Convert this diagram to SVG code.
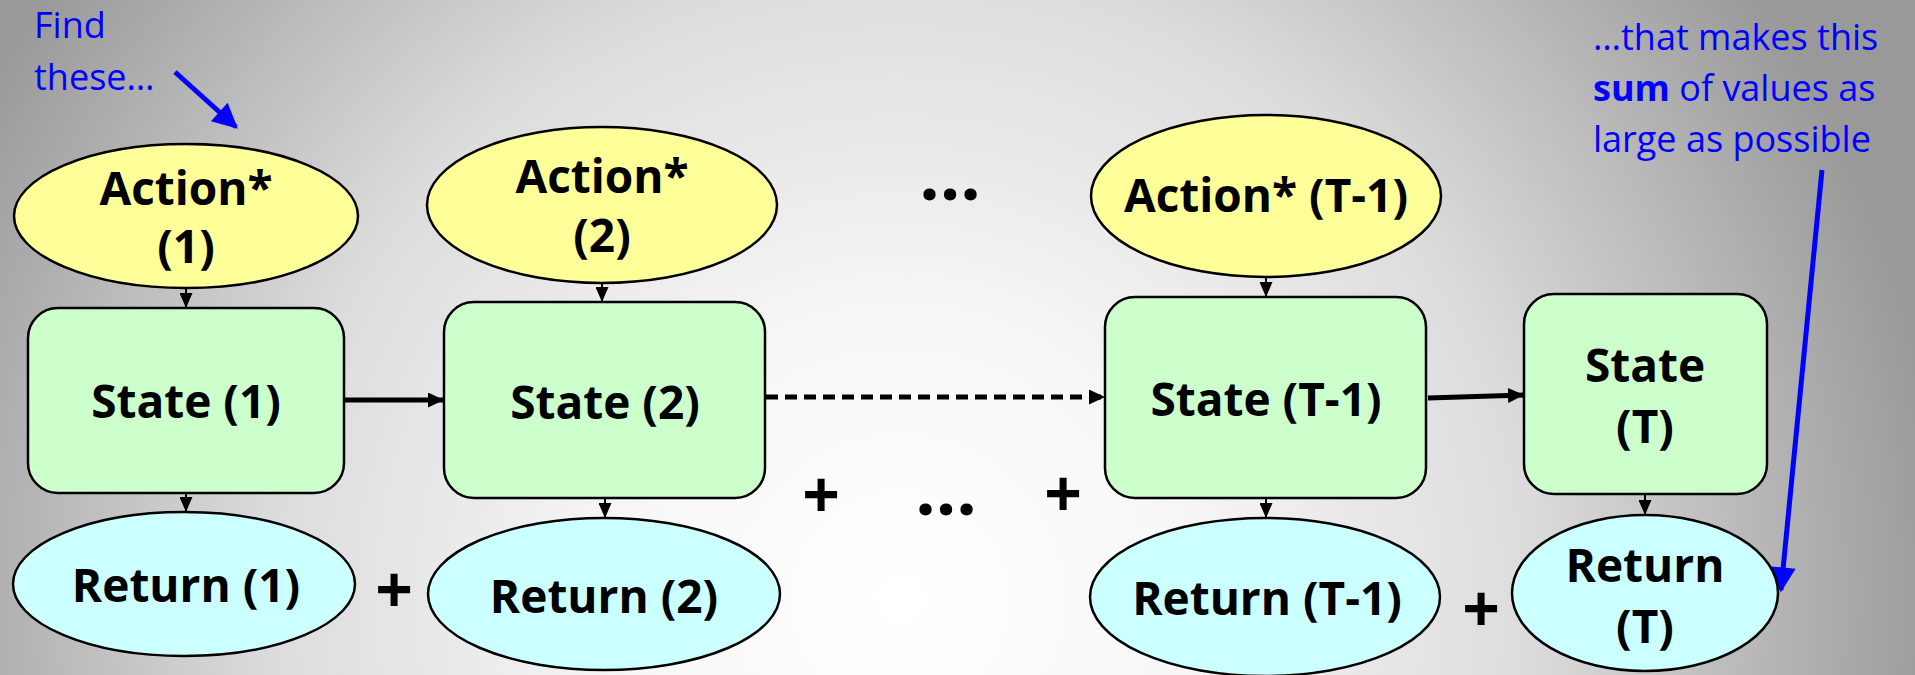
<svg xmlns="http://www.w3.org/2000/svg" width="1915" height="675" viewBox="0 0 1915 675">
  <defs>
    <radialGradient id="bg" gradientUnits="userSpaceOnUse" cx="900" cy="600" r="1050">
      <stop offset="0" stop-color="#ffffff"/>
      <stop offset="0.25" stop-color="#f8f8f8"/>
      <stop offset="0.6" stop-color="#dcdcdc"/>
      <stop offset="1" stop-color="#999999"/>
    </radialGradient>
    <marker id="head" viewBox="0 0 10 10" refX="10" refY="5" markerWidth="15" markerHeight="13" markerUnits="userSpaceOnUse" orient="auto" preserveAspectRatio="none">
      <path d="M0,0 L10,5 L0,10 z" fill="#000"/>
    </marker>
    <marker id="headThick" viewBox="0 0 10 10" refX="10" refY="5" markerWidth="16" markerHeight="15" markerUnits="userSpaceOnUse" orient="auto" preserveAspectRatio="none">
      <path d="M0,0 L10,5 L0,10 z" fill="#000"/>
    </marker>
    <marker id="blueHead" viewBox="0 0 10 10" refX="9" refY="5" markerWidth="6" markerHeight="5" orient="auto">
      <path d="M0,0 L10,5 L0,10 z" fill="#0000ff"/>
    </marker>
  </defs>
  <style>
    .action { fill: #ffff99; stroke: #000; stroke-width: 2.5; }
    .state { fill: #ccffcc; stroke: #000; stroke-width: 2.5; }
    .ret { fill: #ccffff; stroke: #000; stroke-width: 2.5; }
    .lbl { font-family: "Open Sans", "Liberation Sans", sans-serif; font-weight: 700; font-size: 46px; fill: #000; text-anchor: middle; }
    .op { font-family: "Open Sans", "Liberation Sans", sans-serif; font-weight: 700; font-size: 66px; fill: #000; text-anchor: middle; }
    .dots { font-family: "Open Sans", "Liberation Sans", sans-serif; font-weight: 700; font-size: 72px; fill: #000; text-anchor: middle; }
    .note { font-family: "Open Sans", "Liberation Sans", sans-serif; font-size: 36px; fill: #0000ff; }
    .edge { stroke: #000; stroke-width: 2; fill: none; marker-end: url(#head); }
    .chain { stroke: #000; stroke-width: 5; fill: none; marker-end: url(#headThick); }
    .pointer { stroke: #0000ff; stroke-width: 5; fill: none; marker-end: url(#blueHead); }
  </style>

  <rect x="0" y="0" width="1915" height="675" fill="url(#bg)"/>

  <!-- annotations -->
  <g id="note-find">
    <text class="note" x="34" y="38">Find</text>
    <text class="note" x="34" y="90">these…</text>
  </g>
  <g id="note-sum">
    <text class="note" x="1593" y="50">…that makes this</text>
    <text class="note" x="1593" y="101"><tspan font-weight="700">sum</tspan> of values as</text>
    <text class="note" x="1593" y="152">large as possible</text>
  </g>

  <!-- connectors -->
  <g id="connectors">
    <line class="edge" x1="186" y1="289" x2="186" y2="308"/>
    <line class="edge" x1="602" y1="283" x2="602" y2="302"/>
    <line class="edge" x1="1266" y1="277" x2="1266" y2="297"/>
    <line class="edge" x1="186" y1="493" x2="186" y2="512"/>
    <line class="edge" x1="605" y1="498" x2="605" y2="518"/>
    <line class="edge" x1="1266" y1="498" x2="1266" y2="518"/>
    <line class="edge" x1="1645" y1="494" x2="1645" y2="515"/>
    <line class="chain" x1="344" y1="400" x2="444" y2="400"/>
    <line class="chain" x1="766" y1="397" x2="1105" y2="397" stroke-dasharray="12 7"/>
    <line class="chain" x1="1428" y1="398" x2="1524" y2="395"/>
    <line class="pointer" x1="175" y1="72" x2="236" y2="127"/>
    <line class="pointer" x1="1822" y1="170" x2="1781" y2="590"/>
  </g>

  <!-- action nodes -->
  <g id="action-1">
    <ellipse class="action" cx="186" cy="216" rx="172" ry="72"/>
    <text class="lbl" x="186" y="205">Action*</text>
    <text class="lbl" x="186" y="263">(1)</text>
  </g>
  <g id="action-2">
    <ellipse class="action" cx="602" cy="205" rx="175" ry="78"/>
    <text class="lbl" x="602" y="193">Action*</text>
    <text class="lbl" x="602" y="252">(2)</text>
  </g>
  <g id="action-t1">
    <ellipse class="action" cx="1266" cy="196" rx="175" ry="81"/>
    <text class="lbl" x="1266" y="212">Action* (T-1)</text>
  </g>

  <!-- state nodes -->
  <g id="state-1">
    <rect class="state" x="28" y="308" width="316" height="185" rx="30"/>
    <text class="lbl" x="186" y="418">State (1)</text>
  </g>
  <g id="state-2">
    <rect class="state" x="444" y="302" width="321" height="196" rx="30"/>
    <text class="lbl" x="605" y="419">State (2)</text>
  </g>
  <g id="state-t1">
    <rect class="state" x="1105" y="297" width="321" height="201" rx="30"/>
    <text class="lbl" x="1266" y="416">State (T-1)</text>
  </g>
  <g id="state-t">
    <rect class="state" x="1524" y="294" width="243" height="200" rx="30"/>
    <text class="lbl" x="1645" y="382">State</text>
    <text class="lbl" x="1645" y="443">(T)</text>
  </g>

  <!-- return nodes -->
  <g id="return-1">
    <ellipse class="ret" cx="184" cy="584" rx="171" ry="72"/>
    <text class="lbl" x="186" y="602">Return (1)</text>
  </g>
  <g id="return-2">
    <ellipse class="ret" cx="604" cy="594" rx="176" ry="76"/>
    <text class="lbl" x="604" y="613">Return (2)</text>
  </g>
  <g id="return-t1">
    <ellipse class="ret" cx="1265" cy="597" rx="175" ry="79"/>
    <text class="lbl" x="1267" y="615">Return (T-1)</text>
  </g>
  <g id="return-t">
    <ellipse class="ret" cx="1645" cy="593" rx="133" ry="78"/>
    <text class="lbl" x="1645" y="582">Return</text>
    <text class="lbl" x="1645" y="643">(T)</text>
  </g>

  <!-- sum operators and ellipses -->
  <g id="operators">
    <text class="dots" x="950" y="200">…</text>
    <text class="op" x="394" y="613">+</text>
    <text class="op" x="821" y="518">+</text>
    <text class="dots" x="946" y="515">…</text>
    <text class="op" x="1063" y="517">+</text>
    <text class="op" x="1481" y="632">+</text>
  </g>
</svg>
